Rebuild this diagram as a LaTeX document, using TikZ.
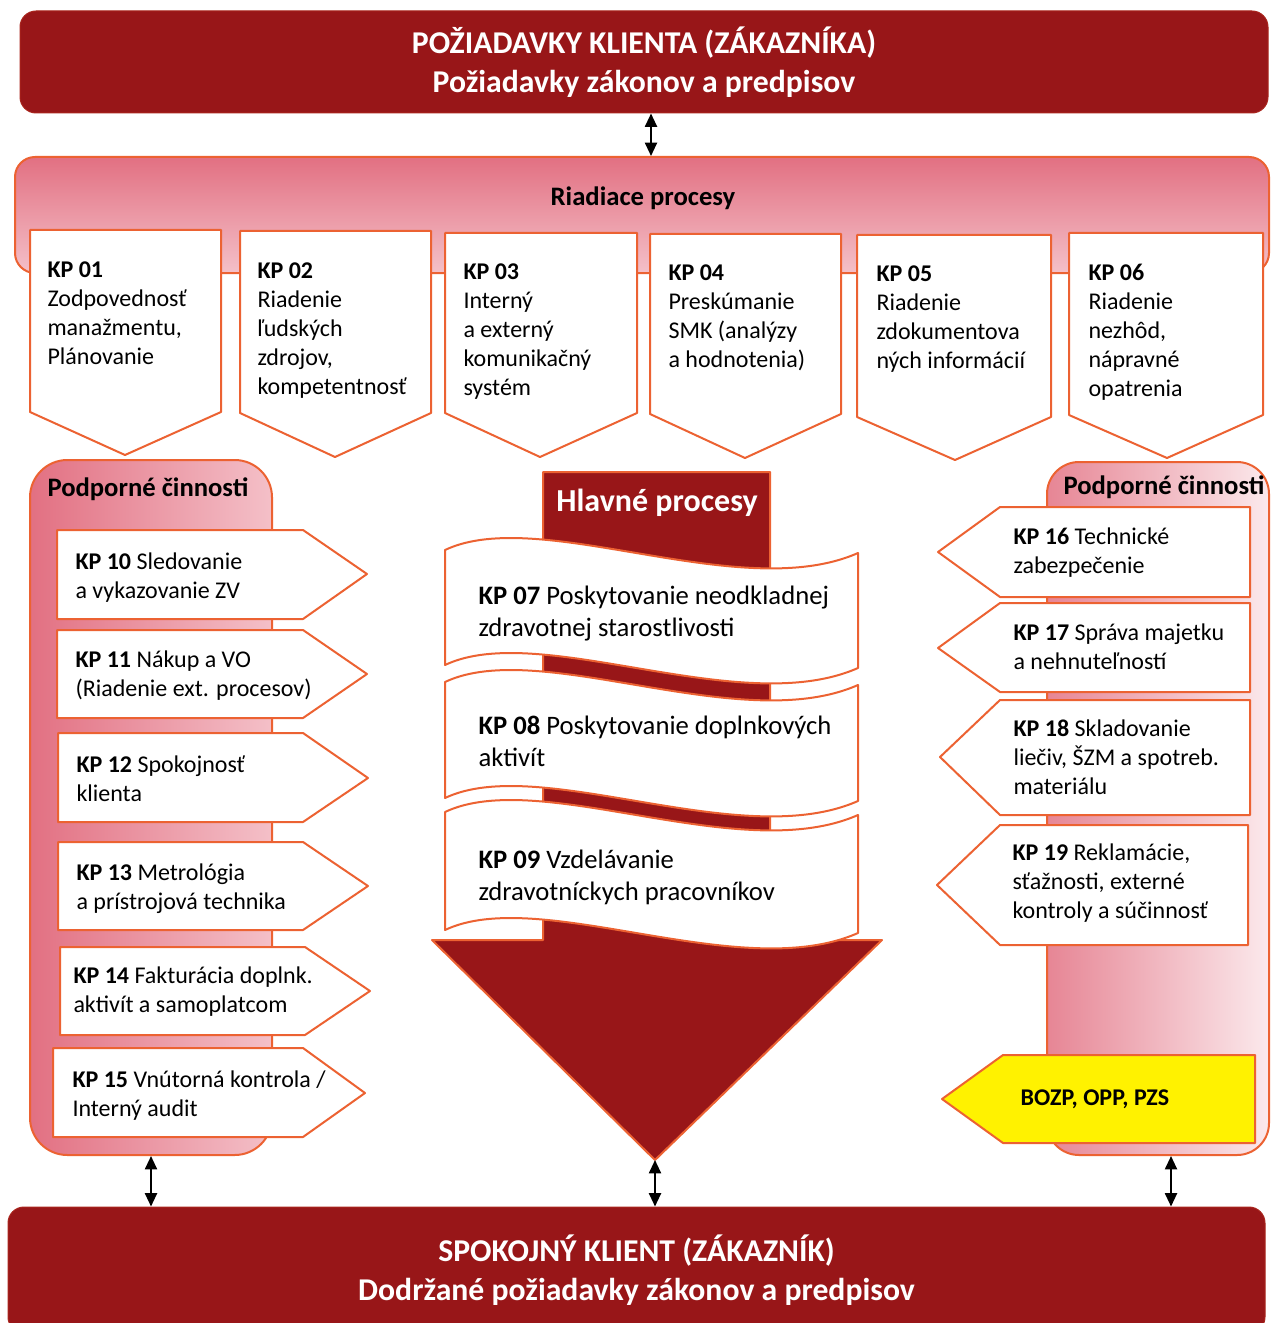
\documentclass[tikz,border=0pt]{standalone}
\usepackage{fontspec}
\setmainfont{Carlito}
\usetikzlibrary{arrows.meta}

\definecolor{qmsred}{RGB}{152,22,24}
\definecolor{qmsedge}{RGB}{236,98,50}
\definecolor{qmspink}{RGB}{226,112,130}
\definecolor{qmsrose}{RGB}{244,192,200}
\definecolor{qmsyellow}{RGB}{255,242,0}

\tikzset{every picture/.style={line width=0.75pt}}
\tikzset{
  banner/.style={draw=qmsred!80!qmsedge, fill=qmsred, rounded corners=12pt, text=white, align=center, inner sep=0pt,
    font=\fontsize{23.8}{29.25}\selectfont\bfseries},
  panel/.style={draw=qmsedge, line width=1.5pt, rounded corners=#1, inner sep=0pt},
  kpbox/.style={draw=qmsedge, fill=white, line width=1.5pt, line join=round},
  % base of a multi-line node = base of its last line
  kptext/.style={anchor=base west, inner sep=0pt, align=left, font=\fontsize{18}{21.75}\selectfont},
  maintext/.style={anchor=base west, inner sep=0pt, align=left, font=\fontsize{20}{24}\selectfont},
  headtext/.style={inner sep=0pt, font=\fontsize{20}{24}\selectfont\bfseries},
  dblarrow/.style={{Triangle[length=10pt,width=9pt]}-{Triangle[length=10pt,width=9pt]}, line width=1.5pt, black},
}

\begin{document}
\begin{tikzpicture}[x=0.75pt,y=0.75pt,yscale=-1,xscale=1]
    \useasboundingbox (0,0) rectangle (1271,1323);
    \clip (0,0) rectangle (1271,1323);
    \coordinate (up) at (651,0);
    \coordinate (tip) at (655,1160);
    \coordinate (rdown) at (1171,0);

    %Rounded Rect: requirements
    \draw (644,62) node (req) [banner, minimum width=936pt, minimum height=76.5pt] {POŽIADAVKY KLIENTA (ZÁKAZNÍKA)\\Požiadavky zákonov a predpisov};
    %Rounded Rect: satisfied client
    \draw (636.5,1270) node (sat) [banner, minimum width=942.75pt, minimum height=94.5pt] {SPOKOJNÝ KLIENT (ZÁKAZNÍK)\\Dodržané požiadavky zákonov a predpisov};

    %Rounded Rect: control processes
    \draw (642,215) node (ctrl) [panel=15pt, top color=qmspink, bottom color=qmsrose, minimum width=940.5pt, minimum height=87pt] {};
    %Rounded Rect: support left
    \draw (151,807.5) node (supL) [panel=28pt, left color=qmspink, right color=qmsrose, minimum width=181.5pt, minimum height=521.25pt] {};
    %Rounded Rect: support right
    \draw (1158,808.5) node (supR) [panel=24pt, left color=qmspink!85!white, right color=qmsrose!35!white, minimum width=166.5pt, minimum height=519.75pt] {};

    %Shape: big down arrow
    \draw [draw=qmsedge, fill=qmsred, line width=1.5pt, line join=round] (543,472) -- (770,472) -- (770,940) -- (882,940) -- (tip) -- (432,940) -- (543,940) -- cycle;

    %Shape: KP 01 - KP 06
    \draw [kpbox] (30,230) -- (221,230) -- (221,412) -- (125,455) -- (30,412) -- cycle;
    \draw [kpbox] (240,231) -- (431,231) -- (431,413) -- (335,457) -- (240,413) -- cycle;
    \draw [kpbox] (445,233) -- (637,233) -- (637,413) -- (540,457) -- (445,413) -- cycle;
    \draw [kpbox] (650,234) -- (841,234) -- (841,414) -- (745,458) -- (650,414) -- cycle;
    \draw [kpbox] (857,235) -- (1051,235) -- (1051,417) -- (955,460) -- (857,417) -- cycle;
    \draw [kpbox] (1069,233) -- (1263,233) -- (1263,415) -- (1167,458) -- (1069,415) -- cycle;

    %Shape: KP 10 - KP 15
    \draw [kpbox] (57,530) -- (303,530) -- (367,574) -- (303,619) -- (57,619) -- cycle;
    \draw [kpbox] (57,630) -- (303,630) -- (367,674) -- (303,718) -- (57,718) -- cycle;
    \draw [kpbox] (58,733) -- (303,733) -- (368,778) -- (303,822) -- (58,822) -- cycle;
    \draw [kpbox] (58,842) -- (303,842) -- (368,886) -- (303,930) -- (58,930) -- cycle;
    \draw [kpbox] (60,947) -- (305,947) -- (370,991) -- (305,1035) -- (60,1035) -- cycle;
    \draw [kpbox] (53,1048) -- (303,1048) -- (365,1093) -- (303,1137) -- (53,1137) -- cycle;

    %Shape: KP 16 - KP 19, BOZP
    \draw [kpbox] (938,552) -- (1000,507) -- (1250,507) -- (1250,597) -- (1000,597) -- cycle;
    \draw [kpbox] (938,648) -- (1000,603) -- (1250,603) -- (1250,692) -- (1000,692) -- cycle;
    \draw [kpbox] (940,757) -- (1000,700) -- (1250,700) -- (1250,815) -- (1000,815) -- cycle;
    \draw [kpbox] (937,885) -- (1000,825) -- (1248,825) -- (1248,945) -- (1000,945) -- cycle;
    \draw [kpbox, fill=qmsyellow] (942,1099) -- (1003,1055) -- (1255,1055) -- (1255,1143) -- (1003,1143) -- cycle;

    %Shape: Wave KP 07 - KP 09
    \draw [kpbox] (445,550) .. controls (540,505) and (740,605) .. (858,553) -- (858,668) .. controls (740,720) and (540,620) .. (445,665) -- cycle;
    \draw [kpbox] (445,682) .. controls (540,637) and (740,737) .. (858,685) -- (858,801) .. controls (740,853) and (540,753) .. (445,798) -- cycle;
    \draw [kpbox] (445,812) .. controls (540,767) and (740,867) .. (858,815) -- (858,933) .. controls (740,985) and (540,885) .. (445,930) -- cycle;

    % Text Node
    \draw (643,198) node (ctrlhead) [headtext] {Riadiace procesy};
    % Text Node
    \draw (47,496) node (supLhead) [headtext, anchor=base west] {Podporné činnosti};
    % Text Node
    \draw (1063,494) node (supRhead) [headtext, anchor=base west] {Podporné činnosti};
    % Text Node
    \draw (657,503) node (mainhead) [headtext, text=white, font=\fontsize{24}{28}\selectfont\bfseries] {Hlavné procesy};

    % Text Node
    \draw (47,364) node (kp01) [kptext] {\textbf{KP 01}\\Zodpovednosť\\manažmentu,\\Plánovanie};
    % Text Node
    \draw (257,394) node (kp02) [kptext] {\textbf{KP 02}\\Riadenie\\ľudských\\zdrojov,\\kompetentnosť};
    % Text Node
    \draw (463,395) node (kp03) [kptext] {\textbf{KP 03}\\Interný\\a externý\\komunikačný\\systém};
    % Text Node
    \draw (668,367) node (kp04) [kptext] {\textbf{KP 04}\\Preskúmanie\\SMK (analýzy\\a hodnotenia)};
    % Text Node
    \draw (876,368) node (kp05) [kptext] {\textbf{KP 05}\\Riadenie\\zdokumentova\\ných informácií};
    % Text Node
    \draw (1088,396) node (kp06) [kptext] {\textbf{KP 06}\\Riadenie\\nezhôd,\\nápravné\\opatrenia};

    % Text Node
    \draw (478,636) node (kp07) [maintext] {\textbf{KP 07} Poskytovanie neodkladnej\\zdravotnej starostlivosti};
    % Text Node
    \draw (478,766) node (kp08) [maintext] {\textbf{KP 08} Poskytovanie doplnkových\\aktivít};
    % Text Node
    \draw (478,900) node (kp09) [maintext] {\textbf{KP 09} Vzdelávanie\\zdravotníckych pracovníkov};

    % Text Node
    \draw (75,598) node (kp10) [kptext] {\textbf{KP 10} Sledovanie\\a vykazovanie ZV};
    % Text Node
    \draw (75,696) node (kp11) [kptext] {\textbf{KP 11} Nákup a VO\\(Riadenie ext. procesov)};
    % Text Node
    \draw (76,801) node (kp12) [kptext] {\textbf{KP 12} Spokojnosť\\klienta};
    % Text Node
    \draw (76,909) node (kp13) [kptext] {\textbf{KP 13} Metrológia\\a prístrojová technika};
    % Text Node
    \draw (73,1012) node (kp14) [kptext] {\textbf{KP 14} Fakturácia doplnk.\\aktivít a samoplatcom};
    % Text Node
    \draw (72,1116) node (kp15) [kptext] {\textbf{KP 15} Vnútorná kontrola /\\Interný audit};

    % Text Node
    \draw (1013,573) node (kp16) [kptext] {\textbf{KP 16} Technické\\zabezpečenie};
    % Text Node
    \draw (1013,669) node (kp17) [kptext] {\textbf{KP 17} Správa majetku\\a nehnuteľností};
    % Text Node
    \draw (1013,794) node (kp18) [kptext] {\textbf{KP 18} Skladovanie\\liečiv, ŠZM a spotreb.\\materiálu};
    % Text Node
    \draw (1012,918) node (kp19) [kptext] {\textbf{KP 19} Reklamácie,\\sťažnosti, externé\\kontroly a súčinnosť};
    % Text Node
    \draw (1095,1099) node (bozp) [kptext, anchor=center, font=\fontsize{18}{21.75}\selectfont\bfseries] {BOZP, OPP, PZS};

    %Straight Lines: links
    \draw [dblarrow] (req.south -| up) -- (ctrl.north -| up);
    \draw [dblarrow] (supL.south) -- (sat.north -| supL.south);
    \draw [dblarrow] (tip) -- (sat.north -| tip);
    \draw [dblarrow] (supR.south -| rdown) -- (sat.north -| rdown);

\end{tikzpicture}
\end{document}
